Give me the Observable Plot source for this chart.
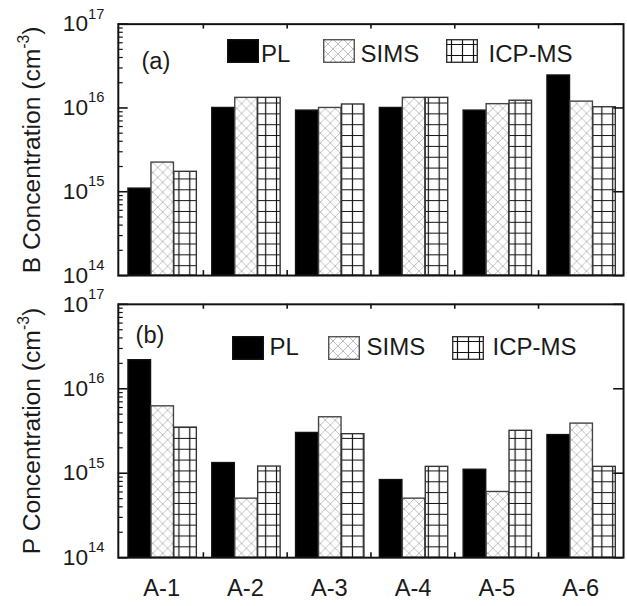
<!DOCTYPE html>
<html><head><meta charset="utf-8">
<script src="https://cdn.jsdelivr.net/npm/d3@7"></script>
<script src="https://cdn.jsdelivr.net/npm/@observablehq/plot@0.6"></script>
<style>
html,body{margin:0;padding:0;background:#fff;}
#wrap{position:relative;width:627px;height:606px;overflow:hidden;font-family:"Liberation Sans",Arial,sans-serif;color:#1a1a1a;}
#wrap > svg{position:absolute;left:0;}
.sw{position:absolute;display:block;}
.lt{position:absolute;font-size:24px;line-height:24px;white-space:nowrap;}
</style></head><body>
<svg width="0" height="0" style="position:absolute">
<defs>
<pattern id="sims" patternUnits="userSpaceOnUse" width="10" height="10">
  <rect width="10" height="10" fill="#fff"/>
  <path d="M0,0L10,10M10,0L0,10" stroke="#b8b8b8" stroke-width="0.9"/>
</pattern>
<pattern id="icp" patternUnits="userSpaceOnUse" width="11" height="11">
  <rect width="11" height="11" fill="#fff"/>
  <path d="M5.5,0V11M0,5.5H11" stroke="#111" stroke-width="1.2"/>
</pattern>
</defs></svg>
<div id="wrap"></div>
<script>
const categories = ["A-1", "A-2", "A-3", "A-4", "A-5", "A-6"];
const series = ["PL", "SIMS", "ICP-MS"];
const bPL   = [1.09e15, 1.0e16, 9.3e15, 1.0e16, 9.3e15, 2.44e16];
const bSIMS = [2.23e15, 1.32e16, 1.0e16, 1.32e16, 1.11e16, 1.19e16];
const bICP  = [1.73e15, 1.32e16, 1.1e16, 1.32e16, 1.22e16, 1.02e16];
const pPL   = [2.18e16, 1.32e15, 3.0e15, 8.3e14, 1.1e15, 2.83e15];
const pSIMS = [6.2e15, 5.0e14, 4.6e15, 5.0e14, 6.0e14, 3.87e15];
const pICP  = [3.47e15, 1.2e15, 2.9e15, 1.19e15, 3.18e15, 1.19e15];
const yDomain = [1e14, 1e17];
const yTicks = [1e14, 1e15, 1e16, 1e17];
const minorTicks = [14, 15, 16].flatMap(e => [2, 3, 4, 5, 6, 7, 8, 9].map(m => m * 10 ** e));
const titleB = "B Concentration (cm^-3)";
const titleP = "P Concentration (cm^-3)";

const W = 636, ML = 119.5, MR = 4;
const wrap = document.getElementById("wrap");

function supers(svg) {
  svg.querySelectorAll("text").forEach(t => {
    const s = t.textContent;
    const m = s.match(/^([^^]*)\^([^)]*)(.*)$/);
    if (!m) return;
    const isTitle = !!m[3];
    const supSize = isTitle ? 16 : 15, raise = isTitle ? 12 : 13;
    const ns = "http://www.w3.org/2000/svg";
    t.textContent = "";
    const a = document.createElementNS(ns, "tspan"); a.textContent = m[1]; t.appendChild(a);
    const b = document.createElementNS(ns, "tspan"); b.textContent = m[2];
    b.setAttribute("dy", -raise); b.setAttribute("font-size", supSize); t.appendChild(b);
    if (m[3]) { const c = document.createElementNS(ns, "tspan"); c.textContent = m[3]; c.setAttribute("dy", raise); t.appendChild(c); }
  });
}

function panel({vals, title, tag, tagDx, tagDy, height, marginTop, marginBottom, showX, top}) {
  const rows = categories.flatMap((c, i) => series.map((s, j) => ({category: c, series: s, value: vals[j][i]})));
  const pw = W - ML - MR, ph = height - marginTop - marginBottom, bw = pw / categories.length;
  const bar = (s, f0, f1, fill, stroke) => Plot.barY(rows.filter(d => d.series === s), {
    x: "category", y1: yDomain[0], y2: "value", fill, stroke, strokeWidth: 1.4,
    insetLeft: f0 * bw, insetRight: bw - f1 * bw
  });
  const marks = [
    bar("PL", 0.103, 0.376, "#000", "#111"),
    bar("SIMS", 0.376, 0.648, "url(#sims)", "#444"),
    bar("ICP-MS", 0.648, 0.920, "url(#icp)", "#333"),
    Plot.tickY(yTicks, {y: d => d, insetRight: pw - 10, stroke: "#111", strokeWidth: 1.6}),
    Plot.tickY(minorTicks, {y: d => d, insetRight: pw - 5, stroke: "#111", strokeWidth: 1.2}),
    Plot.tickY(yTicks, {y: d => d, insetLeft: pw - 10, stroke: "#111", strokeWidth: 1.6}),
    Plot.tickX(categories.slice(1), {x: d => d, dx: -bw / 2, insetBottom: ph - 5, stroke: "#111", strokeWidth: 1.6}),
    Plot.tickX(categories.slice(1), {x: d => d, dx: -bw / 2, insetTop: ph - 5, stroke: "#111", strokeWidth: 1.6}),
    Plot.frame({stroke: "#111", strokeWidth: 2}),
    Plot.axisY({ticks: yTicks, tickSize: 0, tickPadding: 14, fontSize: 23, label: null,
      tickFormat: d => "10^" + Math.round(Math.log10(d))}),
    Plot.text([title], {frameAnchor: "left", dx: -87, rotate: -90, fontSize: 25, textAnchor: "middle", lineAnchor: "middle"}),
    Plot.text([tag], {frameAnchor: "top-left", dx: tagDx, dy: tagDy, textAnchor: "start", lineAnchor: "middle", fontSize: 24})
  ];
  if (showX) marks.push(Plot.axisX({tickSize: 0, tickPadding: 22, fontSize: 24, label: null}));
  const svg = Plot.plot({
    width: W, height, marginLeft: ML, marginRight: MR, marginTop, marginBottom,
    style: {fontFamily: "'Liberation Sans', Arial, sans-serif", color: "#1a1a1a", background: "transparent", overflow: "visible"},
    x: {type: "band", domain: categories, padding: 0, axis: null},
    y: {type: "log", domain: yDomain, axis: null},
    marks
  });
  supers(svg);
  svg.style.top = top + "px";
  wrap.appendChild(svg);
}

panel({vals: [bPL, bSIMS, bICP], title: titleB, tag: "(a)", tagDx: 23.5, tagDy: 37.5,
  height: 292, marginTop: 24, marginBottom: 13, showX: false, top: 0});
panel({vals: [pPL, pSIMS, pICP], title: titleP, tag: "(b)", tagDx: 17.5, tagDy: 32,
  height: 314, marginTop: 12, marginBottom: 45, showX: true, top: 292});

// legends (inside each panel)
const swatchSvg = (fill, stroke) =>
  `<svg width="32" height="24"><rect x="0.7" y="0.7" width="30.6" height="22.6" fill="${fill}" stroke="${stroke}" stroke-width="1.4"/></svg>`;
const fills = {"PL": ["#000", "#111"], "SIMS": ["url(#sims)", "#555"], "ICP-MS": ["url(#icp)", "#333"]};
const legendLayouts = [
  {top: 39, textTop: 42, sw: [227, 323, 446], tx: [261, 360.5, 488.5]},
  {top: 336, textTop: 335, sw: [232, 328, 452], tx: [269.5, 366.5, 492.5]}
];
legendLayouts.forEach(L => {
  series.forEach((s, i) => {
    const sw = document.createElement("div");
    sw.className = "sw"; sw.style.left = L.sw[i] + "px"; sw.style.top = L.top + "px";
    sw.innerHTML = swatchSvg(...fills[s]);
    wrap.appendChild(sw);
    const t = document.createElement("div");
    t.className = "lt"; t.style.left = L.tx[i] + "px"; t.style.top = L.textTop + "px";
    t.textContent = s;
    wrap.appendChild(t);
  });
});
</script>
</body></html>
